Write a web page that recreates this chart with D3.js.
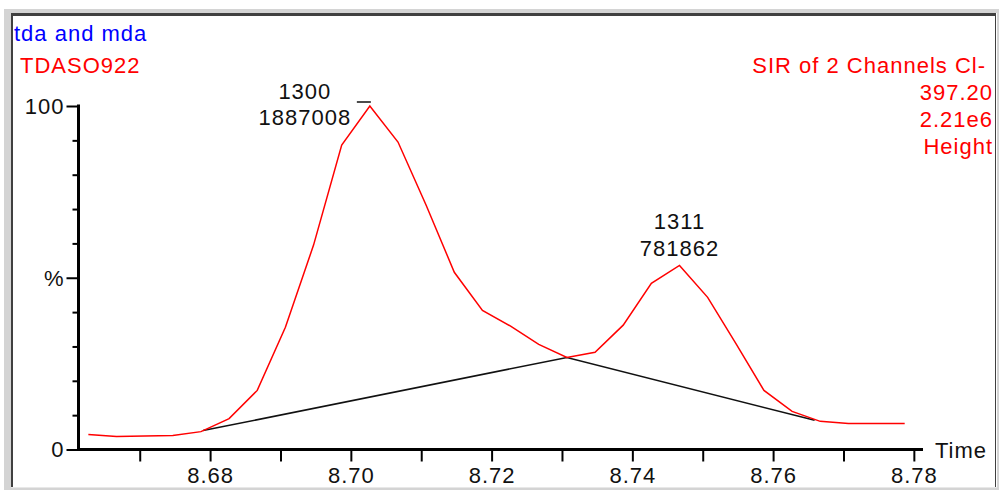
<!DOCTYPE html>
<html><head><meta charset="utf-8">
<script src="https://cdnjs.cloudflare.com/ajax/libs/d3/7.8.5/d3.min.js"></script>
<style>
html,body{margin:0;padding:0;background:#fff;}
svg{display:block;}
text{font-family:"Liberation Sans",Arial,sans-serif;font-size:22px;letter-spacing:1px;}
</style></head>
<body>
<svg id="chart" width="1000" height="490"></svg>
<script>
// ---- data ----
const titleLines = ["tda and mda", "TDASO922"];
const infoLines = ["SIR of 2 Channels Cl-", "397.20", "2.21e6", "Height"];
const times = [8.6627,8.6667,8.6707,8.6747,8.6787,8.6827,8.6867,8.6907,8.6947,8.6987,
               8.7027,8.7067,8.7107,8.7147,8.7187,8.7227,8.7267,8.7307,8.7347,8.7387,
               8.7427,8.7467,8.7507,8.7547,8.7587,8.7627,8.7667,8.7707,8.7747,8.7787];
const intensity = [4.4,3.8,3.9,4.1,5.2,9.0,17.2,35.6,59.5,88.6,
                   100,89.5,71.1,51.6,40.5,35.9,30.6,26.8,28.3,36.2,
                   48.4,53.6,44.3,30.9,17.2,11.1,8.2,7.6,7.6,7.6];
const baselineTimes = [8.6790, 8.7307, 8.7659];
const baselineValues = [5.5, 26.8, 8.5];
const peakTimes = [8.7027, 8.7467];
const peakValues = [100, 53.6];
const peakScans = ["1300", "1311"];
const peakAreas = ["1887008", "781862"];
const xTicks = [8.67,8.68,8.69,8.70,8.71,8.72,8.73,8.74,8.75,8.76,8.77,8.78];
const xTickLabels = ["","8.68","","8.70","","8.72","","8.74","","8.76","","8.78"];
const yTicks = [0,10,20,30,40,50,60,70,80,90,100];
const yTickLabels = ["0","","","","","%","","","","","100"];
const xAxisTitle = "Time";

// ---- drawing ----
const svg = d3.select("#chart");

// window frame
svg.append("rect").attr("x",4).attr("y",9).attr("width",995).attr("height",481).attr("fill","#d4d4d4");
svg.append("rect").attr("x",11).attr("y",13).attr("width",985).attr("height",475).attr("fill","#404040");
svg.append("rect").attr("x",13).attr("y",16).attr("width",982).attr("height",471).attr("fill","#fff");
svg.append("line").attr("x1",996.5).attr("x2",996.5).attr("y1",13).attr("y2",488).attr("stroke","#fff");
svg.append("line").attr("x1",11).attr("x2",997).attr("y1",487.5).attr("y2",487.5).attr("stroke","#e8e8e8");

const x = d3.scaleLinear().domain([8.6613, 8.7813]).range([78.5, 923]);
const y = d3.scaleLinear().domain([0, 100]).range([449.5, 106]);

// titles
svg.append("text").attr("x",14).attr("y",41).attr("fill","#0000ff").text(titleLines[0]);
svg.append("text").attr("x",20).attr("y",73).attr("fill","#ff0000").text(titleLines[1]);
const infoY = [73, 100, 127, 154];
const infoX = [986, 993, 993, 993];
infoLines.forEach((t,i)=>{
  svg.append("text").attr("x",infoX[i]).attr("y",infoY[i]).attr("text-anchor","end")
     .attr("fill","#ff0000").text(t);
});

// x axis
const gx = svg.append("g").attr("transform","translate(0,449.5)")
  .call(d3.axisBottom(x).tickValues(xTicks).tickSize(12).tickSizeOuter(0)
        .tickFormat((d,i)=>xTickLabels[i]));
gx.select(".domain").attr("stroke","#000").attr("stroke-width",3).attr("d","M77,0H923");
gx.selectAll(".tick line").attr("stroke","#000").attr("stroke-width",2);
gx.selectAll(".tick text").attr("y",33).attr("dy",null).attr("fill","#111")
  .style("font-size","22px").style("font-family",'"Liberation Sans",Arial,sans-serif');
svg.append("text").attr("x",935).attr("y",458).attr("fill","#111").text(xAxisTitle);

// y axis
const gy = svg.append("g").attr("transform","translate(78.5,0)")
  .call(d3.axisLeft(y).tickValues(yTicks).tickSize(6).tickSizeOuter(0)
        .tickFormat((d,i)=>yTickLabels[i]));
gy.select(".domain").attr("stroke","#000").attr("stroke-width",3).attr("d","M0,104.5V451");
gy.selectAll(".tick line").attr("stroke","#000").attr("stroke-width",2)
  .attr("x2",(d,i)=> yTickLabels[i] ? -12 : -6);
gy.selectAll(".tick text").attr("x",-14).attr("dy","0.34em").attr("fill","#111")
  .style("font-size","22px").style("font-family",'"Liberation Sans",Arial,sans-serif');

// baseline
const pts = times.map((t,i)=>[t,intensity[i]]);
const bpts = baselineTimes.map((t,i)=>[t,baselineValues[i]]);
const line = d3.line().x(d=>x(d[0])).y(d=>y(d[1]));
svg.append("path").attr("d",line(bpts)).attr("fill","none").attr("stroke","#111").attr("stroke-width",1.5);
svg.append("path").attr("d",line(pts)).attr("fill","none").attr("stroke","#ff0000").attr("stroke-width",1.5);

// peak labels
const labelDX = [-65, 0];
const labelDY = [[-7, 19], [-36, -9]];
peakTimes.forEach((t,i)=>{
  const px = x(t) + labelDX[i], py = y(peakValues[i]);
  svg.append("text").attr("x",px).attr("y",py+labelDY[i][0]).attr("text-anchor","middle").attr("fill","#111").text(peakScans[i]);
  svg.append("text").attr("x",px).attr("y",py+labelDY[i][1]).attr("text-anchor","middle").attr("fill","#111").text(peakAreas[i]);
});
// apex marker for main peak
svg.append("line").attr("x1",x(peakTimes[0])-13).attr("x2",x(peakTimes[0])+1)
  .attr("y1",y(peakValues[0])-4).attr("y2",y(peakValues[0])-4).attr("stroke","#111").attr("stroke-width",1.5);
</script>
</body></html>
